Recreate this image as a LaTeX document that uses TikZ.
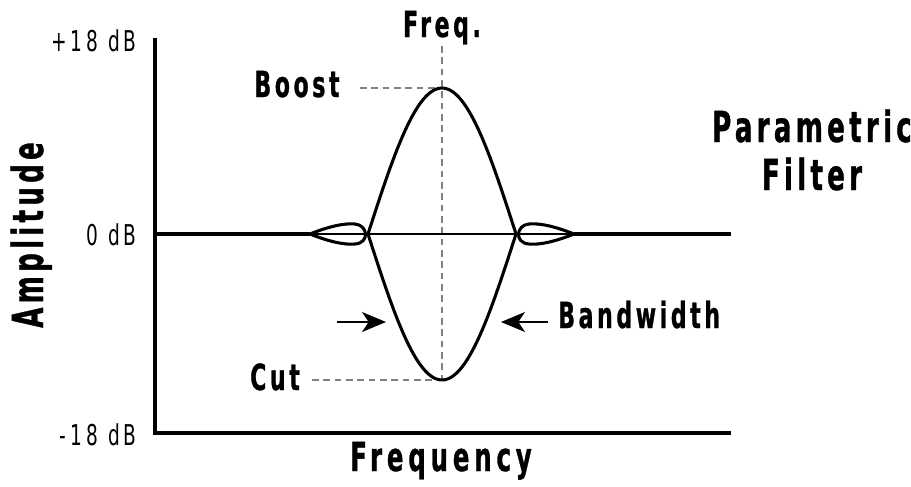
\documentclass[tikz,border=0pt]{standalone}
\usepackage{fontspec}
\newfontfamily\labelfont{DejaVu Sans Condensed Bold}[FakeStretch=0.68,LetterSpace=10,FakeBold=0.8]
\newfontfamily\widefont{DejaVu Sans Condensed Bold}[FakeStretch=0.68,LetterSpace=12,FakeBold=0.8]
\newfontfamily\tickfont{DejaVu Sans Condensed}[FakeStretch=0.72,LetterSpace=14]
\usetikzlibrary{arrows.meta}

\begin{document}
\begin{tikzpicture}[x=0.75pt,y=-0.75pt,
  axis/.style={line width=3pt,line join=miter},
  curve/.style={line width=2.3pt,line join=round},
  guide/.style={gray,line width=1.1pt,dash pattern=on 5pt off 3.5pt},
  bigtxt/.style={inner sep=0pt,anchor=base,font=\labelfont\fontsize{32}{32}\selectfont},
  midtxt/.style={inner sep=0pt,anchor=base,font=\labelfont\fontsize{27}{27}\selectfont},
  tick/.style={inner sep=0pt,anchor=base east,font=\tickfont\fontsize{21.5}{22}\selectfont},
  arr/.style={line width=0.9pt,-{Stealth[length=18pt,width=15pt,inset=5pt]}}]
  \useasboundingbox (0,0) rectangle (911,486);

  % key points
  \coordinate (peak) at (442,88);
  \coordinate (trough) at (442,380);
  \coordinate (ftop) at (442,46);
  \coordinate (lobeL) at (310,234);
  \coordinate (lobeR) at (574,234);
  \coordinate (zero) at (155,234);
  \coordinate (zend) at (731,234);

  % guides
  \draw[guide] (ftop) -- (trough);
  \draw[guide] (360,88) -- (peak);
  \draw[guide] (312,380) -- (trough);

  % axes and 0 dB line
  \draw[axis] (155,38) -- (155,433) -- (731,433);
  \draw[axis] (zero) -- (lobeL);
  \draw[axis] (lobeR) -- (zend);
  \draw[line width=1pt] (lobeL) -- (lobeR);

  % side lobes
  \draw[curve] (lobeL) .. controls (330,226) and (345,223) .. (355,224)
    .. controls (368,225) and (370,243) .. (355,244)
    .. controls (345,245) and (330,242) .. (lobeL);
  \draw[curve] (lobeR) .. controls (554,226) and (539,223) .. (529,224)
    .. controls (516,225) and (514,243) .. (529,244)
    .. controls (539,245) and (554,242) .. (lobeR);

  % boost and cut
  \draw[curve] plot[domain=-1:1,samples=60,smooth] ({442+74*\x},{234-146*cos(90*\x)});
  \draw[curve] plot[domain=-1:1,samples=60,smooth] ({442+74*\x},{234+146*cos(90*\x)});

  % bandwidth arrows
  \coordinate (bwL) at (386,322);
  \coordinate (bwR) at (501,322);
  \coordinate (tailL) at (337,322);
  \coordinate (tailR) at (548,322);
  \draw[arr] (tailL) -- (bwL);
  \draw[arr] (tailR) -- (bwR);

  % labels
  \node[midtxt] (freq) at (442,37) {Freq.};
  \node[midtxt] (boost) at (297,97) {Boost};
  \node[midtxt] (cut) at (275,390) {Cut};
  \node[midtxt,anchor=base west] (bw) at (558,328) {Bandwidth};
  \node[tick] (top) at (137,51) {+18 dB};
  \node[tick] (mid) at (137,245) {0 dB};
  \node[tick] (bot) at (137,445) {-18 dB};
  \node[midtxt,font=\widefont\fontsize{30}{30}\selectfont] (xlab) at (441,471) {Frequency};
  \node[bigtxt,rotate=90] (ylab) at (43,235) {Amplitude};
  \node[bigtxt] (title1) at (812,142) {Parametric};
  \node[bigtxt] (title2) at (812,190) {Filter};
\end{tikzpicture}
\end{document}
